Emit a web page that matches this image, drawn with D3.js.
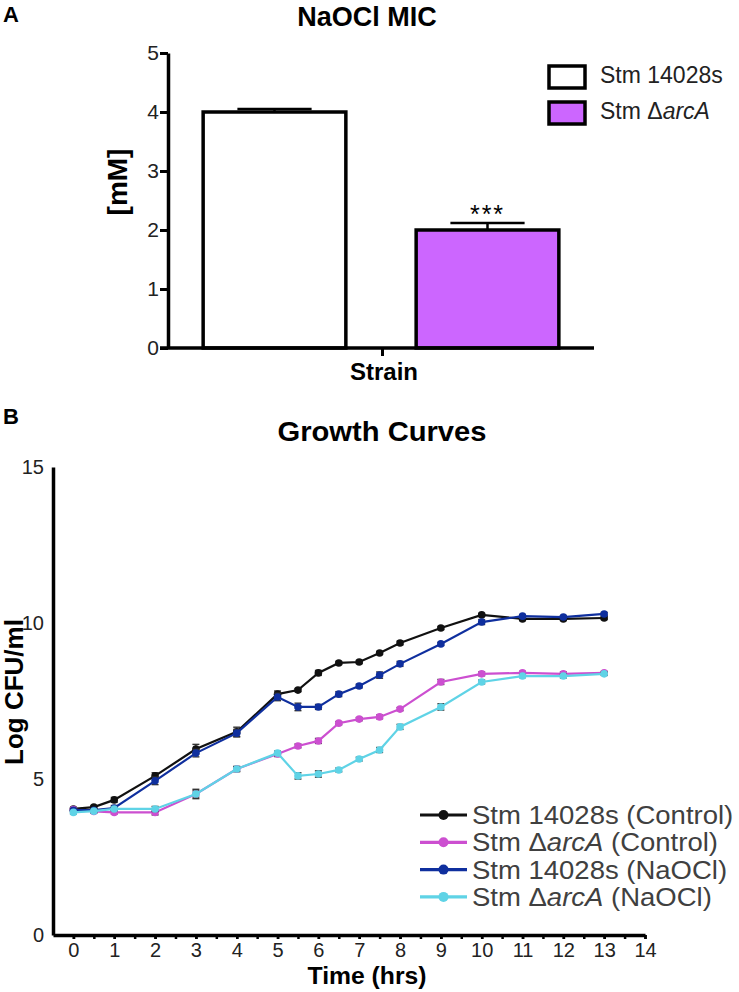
<!DOCTYPE html>
<html>
<head>
<meta charset="utf-8">
<script src="https://cdn.jsdelivr.net/npm/d3@7"></script>
<style>
  html, body { margin: 0; padding: 0; background: #fff; }
  svg { display: block; font-family: "Liberation Sans", Arial, Helvetica, sans-serif; }
</style>
</head>
<body>
<svg id="chart" width="739" height="992"></svg>
<script>
// ---------- Panel A data ----------
const barCategories = ["Stm 14028s", "Stm \u0394arcA"];
const barValues = [4.0, 2.0];
const barErrors = [0.05, 0.12];
const barColors = ["#ffffff", "#cc66ff"];
const barTicks = [0, 1, 2, 3, 4, 5];
const barSignif = ["", "***"];

// ---------- Panel B data ----------
const times = [0, 0.5, 1, 2, 3, 4, 5, 5.5, 6, 6.5, 7, 7.5, 8, 9, 10, 11, 12, 13];
const seriesNames = ["Stm 14028s (Control)", "Stm \u0394arcA (Control)", "Stm 14028s (NaOCl)", "Stm \u0394arcA (NaOCl)"];
const seriesColors = ["#111111", "#cc4fd0", "#0f2f9e", "#5fd3e6"];
const wtControl  = [4.04, 4.10, 4.33, 5.10, 5.96, 6.51, 7.72, 7.85, 8.40, 8.72, 8.75, 9.04, 9.36, 9.84, 10.26, 10.13, 10.13, 10.16];
const arcControl = [4.02, 3.96, 3.93, 3.93, 4.52, 5.32, 5.80, 6.06, 6.22, 6.79, 6.92, 6.99, 7.24, 8.11, 8.37, 8.40, 8.37, 8.40];
const wtNaOCl    = [4.00, 4.00, 4.07, 4.94, 5.83, 6.47, 7.63, 7.31, 7.31, 7.72, 7.98, 8.33, 8.69, 9.33, 10.03, 10.22, 10.19, 10.29];
const arcNaOCl   = [3.93, 3.97, 4.04, 4.04, 4.52, 5.32, 5.83, 5.10, 5.16, 5.29, 5.64, 5.93, 6.67, 7.31, 8.11, 8.30, 8.30, 8.37];
const wtControlErr  = [0.05, 0.05, 0.08, 0.10, 0.15, 0.15, 0.10, 0.05, 0.08, 0.05, 0.05, 0.05, 0.06, 0.05, 0.05, 0.05, 0.05, 0.05];
const arcControlErr = [0.05, 0.05, 0.05, 0.08, 0.10, 0.08, 0.08, 0.06, 0.08, 0.05, 0.05, 0.06, 0.05, 0.08, 0.06, 0.05, 0.06, 0.05];
const wtNaOClErr    = [0.05, 0.05, 0.08, 0.12, 0.12, 0.12, 0.12, 0.12, 0.08, 0.08, 0.06, 0.10, 0.08, 0.05, 0.08, 0.05, 0.05, 0.05];
const arcNaOClErr   = [0.05, 0.05, 0.05, 0.08, 0.15, 0.08, 0.06, 0.10, 0.10, 0.06, 0.06, 0.08, 0.08, 0.10, 0.06, 0.05, 0.06, 0.05];
const xTicks = d3.range(0, 15, 1);
const xMinorTicks = d3.range(0, 14.5, 0.5);
const yTicksB = [0, 5, 10, 15];

const svg = d3.select("#chart");

// helper: write name with italic "arcA"
function richText(sel, name) {
  const m = name.match(/^(.*\u0394)(arcA)(.*)$/);
  if (m) {
    sel.append("tspan").text(m[1]);
    sel.append("tspan").attr("font-style", "italic").text(m[2]);
    sel.append("tspan").text(m[3]);
  } else {
    sel.text(name);
  }
}

// ================= Panel A =================
svg.append("text").attr("x", 3).attr("y", 22).attr("font-size", 22).attr("font-weight", "bold").text("A");
svg.append("text").attr("x", 367).attr("y", 26).attr("text-anchor", "middle")
  .attr("font-size", 27).attr("font-weight", "bold").text("NaOCl MIC");

const xA = d3.scaleBand().domain(barCategories).range([168, 594]).paddingInner(0.33).paddingOuter(0.165);
const yA = d3.scaleLinear().domain([0, 5]).range([348, 53]);
const gA = svg.append("g");

// bars
gA.selectAll("rect.bar").data(barCategories).join("rect")
  .attr("class", "bar")
  .attr("x", d => xA(d))
  .attr("width", xA.bandwidth())
  .attr("y", (d, i) => yA(barValues[i]))
  .attr("height", (d, i) => yA(0) - yA(barValues[i]))
  .attr("fill", (d, i) => barColors[i])
  .attr("stroke", "#000").attr("stroke-width", 3.5);

// error bars
barCategories.forEach((c, i) => {
  const cx = xA(c) + xA.bandwidth() / 2;
  const capW = xA.bandwidth() * 0.26;
  gA.append("line").attr("x1", cx).attr("x2", cx)
    .attr("y1", yA(barValues[i])).attr("y2", yA(barValues[i] + barErrors[i]))
    .attr("stroke", "#000").attr("stroke-width", 2.5);
  gA.append("line").attr("x1", cx - capW).attr("x2", cx + capW)
    .attr("y1", yA(barValues[i] + barErrors[i])).attr("y2", yA(barValues[i] + barErrors[i]))
    .attr("stroke", "#000").attr("stroke-width", 2.5);
  if (barSignif[i]) {
    gA.append("text").attr("x", cx).attr("y", yA(barValues[i] + barErrors[i]))
      .attr("text-anchor", "middle").attr("font-size", 25).attr("letter-spacing", 2)
      .text(barSignif[i]);
  }
});

// axes A
const yAxisA = d3.axisLeft(yA).tickValues(barTicks).tickSize(8).tickSizeOuter(0).tickFormat(d3.format("d"));
const gyA = gA.append("g").attr("transform", "translate(168,0)").call(yAxisA);
gyA.select(".domain").attr("stroke-width", 3.5);
gyA.selectAll(".tick line").attr("stroke-width", 3);
gyA.selectAll(".tick text").attr("font-size", 21).attr("font-family", "Liberation Sans, Arial, sans-serif")
  .attr("fill", "#222").attr("x", -9);

const xAxisA = d3.scaleBand().domain(["Strain"]).range([160, 594]);
const gxA = gA.append("g").attr("transform", "translate(0,348)")
  .call(d3.axisBottom(d3.scalePoint().domain(["Strain"]).range([382, 382])).tickSize(8).tickSizeOuter(0).tickFormat(""));
gxA.select(".domain").remove();
gxA.selectAll(".tick line").attr("stroke-width", 3);
gA.append("line").attr("x1", xAxisA.range()[0]).attr("x2", xAxisA.range()[1])
  .attr("y1", yA(0)).attr("y2", yA(0)).attr("stroke", "#000").attr("stroke-width", 3.5);
gA.append("text").attr("x", 384).attr("y", 380).attr("text-anchor", "middle")
  .attr("font-size", 24).attr("font-weight", "bold").text("Strain");

gA.append("text").attr("transform", "translate(127,182) rotate(-90)").attr("text-anchor", "middle")
  .attr("font-size", 28).attr("font-weight", "bold").text("[mM]");

// legend A
const legA = gA.append("g");
barCategories.forEach((c, i) => {
  const yy = 66 + i * 36;
  legA.append("rect").attr("x", 549).attr("y", yy).attr("width", 36).attr("height", 22)
    .attr("fill", barColors[i]).attr("stroke", "#000").attr("stroke-width", 3.5);
  const t = legA.append("text").attr("x", 600).attr("y", yy + 17).attr("font-size", 23).attr("fill", "#222");
  richText(t, c);
});

// ================= Panel B =================
const SX = 1.08; // horizontal stretch of panel B text
function stretchedText(g, x, y, sx) {
  return g.append("text").attr("transform", `translate(${x},${y}) scale(${sx},1)`);
}

svg.append("text").attr("x", 3).attr("y", 424).attr("font-size", 22).attr("font-weight", "bold").text("B");
stretchedText(svg, 382, 441, SX).attr("text-anchor", "middle")
  .attr("font-size", 27).attr("font-weight", "bold").text("Growth Curves");

const xB = d3.scaleLinear().domain([-0.5, 14]).range([53, 645]);
const yB = d3.scaleLinear().domain([0, 15]).range([935, 467]);
const gB = svg.append("g");

// y axis B
const gyB = gB.append("g").attr("transform", "translate(53,0)")
  .call(d3.axisLeft(yB).tickValues(yTicksB).tickSize(0).tickSizeOuter(0).tickPadding(9));
gyB.select(".domain").attr("stroke-width", 3.5);
gyB.selectAll(".tick text").attr("font-size", 20).attr("fill", "#222")
  .attr("font-family", "Liberation Sans, Arial, sans-serif");

// x axis B (minor ticks every 0.5 h)
const gxBminor = gB.append("g").attr("transform", "translate(0,935)")
  .call(d3.axisBottom(xB).tickValues(xMinorTicks).tickSize(4).tickSizeOuter(0).tickFormat(""));
gxBminor.select(".domain").attr("stroke-width", 3.5);
gxBminor.selectAll(".tick line").attr("stroke-width", 2.5);
const gxB = gB.append("g").attr("transform", "translate(0,935)")
  .call(d3.axisBottom(xB).tickValues(xTicks).tickSize(4).tickSizeOuter(0).tickPadding(4).tickFormat(d3.format("d")));
gxB.select(".domain").remove();
gxB.selectAll(".tick line").attr("stroke-width", 2.5);
gxB.selectAll(".tick text").attr("font-size", 20).attr("fill", "#222")
  .attr("font-family", "Liberation Sans, Arial, sans-serif");

stretchedText(gB, 367, 984, 1.03).attr("text-anchor", "middle")
  .attr("font-size", 24).attr("font-weight", "bold").text("Time (hrs)");
gB.append("text").attr("transform", "translate(23,692) rotate(-90)").attr("text-anchor", "middle")
  .attr("font-size", 26).attr("font-weight", "bold").text("Log CFU/ml");

// series
const allSeries = [
  { name: seriesNames[0], color: seriesColors[0], values: wtControl, errs: wtControlErr },
  { name: seriesNames[1], color: seriesColors[1], values: arcControl, errs: arcControlErr },
  { name: seriesNames[2], color: seriesColors[2], values: wtNaOCl, errs: wtNaOClErr },
  { name: seriesNames[3], color: seriesColors[3], values: arcNaOCl, errs: arcNaOClErr }
];
const line = d3.line().x(d => xB(d.t)).y(d => yB(d.v));

allSeries.forEach(s => {
  const pts = times.map((t, i) => ({ t, v: s.values[i], e: s.errs[i] }));
  const g = gB.append("g");
  // error bars
  pts.forEach(p => {
    const cx = xB(p.t);
    g.append("line").attr("x1", cx).attr("x2", cx).attr("y1", yB(p.v - p.e)).attr("y2", yB(p.v + p.e))
      .attr("stroke", "#333").attr("stroke-width", 1.2);
    [p.v - p.e, p.v + p.e].forEach(v => {
      g.append("line").attr("x1", cx - 3.5).attr("x2", cx + 3.5).attr("y1", yB(v)).attr("y2", yB(v))
        .attr("stroke", "#333").attr("stroke-width", 1.4);
    });
  });
  g.append("path").datum(pts).attr("d", line).attr("fill", "none")
    .attr("stroke", s.color).attr("stroke-width", 2.2);
  g.selectAll("circle").data(pts).join("circle")
    .attr("cx", d => xB(d.t)).attr("cy", d => yB(d.v)).attr("r", 3.8).attr("fill", s.color);
});

// legend B
const legB = gB.append("g");
allSeries.forEach((s, i) => {
  const yy = 815 + i * 27.3;
  legB.append("line").attr("x1", 420).attr("x2", 467).attr("y1", yy).attr("y2", yy)
    .attr("stroke", s.color).attr("stroke-width", 3.2);
  legB.append("circle").attr("cx", 443.5).attr("cy", yy).attr("r", 5).attr("fill", s.color);
  const t = stretchedText(legB, 472, yy + 9, 1.1).attr("font-size", 25).attr("fill", "#404040");
  richText(t, s.name);
});
</script>
</body>
</html>
